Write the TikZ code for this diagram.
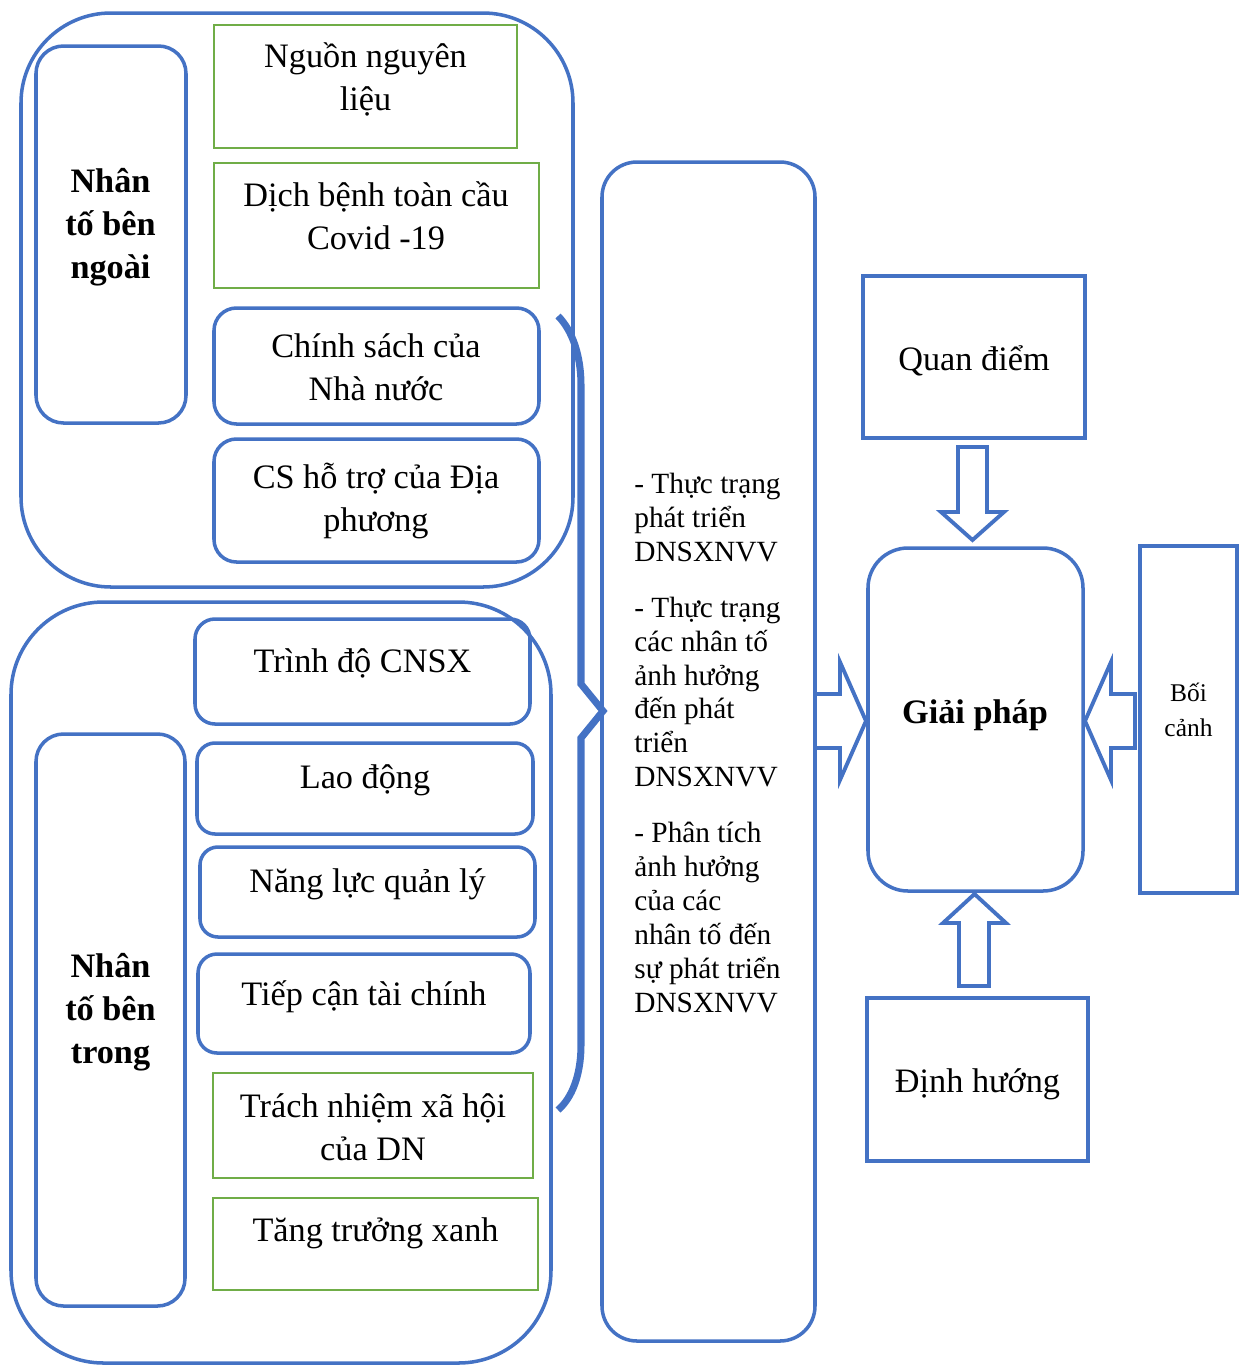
\documentclass[tikz,border=0pt]{standalone}
\usepackage{fontspec}
\setmainfont{Liberation Serif}
\usetikzlibrary{fit,calc}
\definecolor{ablue}{HTML}{4472C4}
\definecolor{agreen}{HTML}{70AD47}
\begin{document}
\begin{tikzpicture}[x=0.02cm,y=-0.02cm,
  bbox/.style={draw=ablue, line width=2pt, inner sep=0pt},
  gbox/.style={draw=agreen, line width=1.6pt, inner sep=0pt},
  txt/.style={font=\fontsize{19.5}{24.4}\selectfont, align=center, inner sep=0pt},
  btxt/.style={font=\fontsize{19.5}{24.4}\selectfont\bfseries, align=center, inner sep=0pt},
  midtxt/.style={font=\fontsize{16.7}{19.3}\selectfont, align=left, inner sep=0pt},
  smtxt/.style={font=\fontsize{14.5}{19.8}\selectfont, align=center, inner sep=0pt},
  blockarrow/.style={draw=ablue, line width=2.2pt, line join=miter, fill=white},
  bracelin/.style={draw=ablue, line width=4pt, line join=miter}]
\useasboundingbox (0,0) rectangle (1243,1367);

% outer groups
\node[bbox, rounded corners=1.8cm, fit={(21,13) (573,587)}] (outtop) {};
\node[bbox, rounded corners=1.85cm, fit={(11,602) (551,1363)}] (outbot) {};

% left labels
\node[bbox, rounded corners=0.55cm, fit={(36,46) (186,423)}] (ngoaibox) {};
\node[btxt] (ngoai) at (110.5,227) {Nhân\\tố bên\\ngoài};
\node[bbox, rounded corners=0.55cm, fit={(36,734) (185,1306)}] (trongbox) {};
\node[btxt] (trong) at (110.5,1012) {Nhân\\tố bên\\trong};

% external factors
\node[gbox, fit={(214,25) (517,148)}] (nguonbox) {};
\node[txt] (nguon) at (365.5,79) {Nguồn nguyên\\liệu};
\node[gbox, fit={(214,163) (539,288)}] (dichbox) {};
\node[txt] (dich) at (376,216) {Dịch bệnh toàn cầu\\Covid -19};
\node[bbox, rounded corners=0.45cm, fit={(214,308) (539,424)}] (csbox) {};
\node[txt] (cs) at (376,367) {Chính sách của\\Nhà nước};
\node[bbox, rounded corners=0.45cm, fit={(214,439) (539,562)}] (dpbox) {};
\node[txt] (dp) at (376,501) {CS hỗ trợ của Địa\\phương};

% internal factors
\node[bbox, rounded corners=0.4cm, fit={(195,619) (530,724)}] (cnbox) {};
\node[txt] (cn) at (362.5,663) {Trình độ CNSX};
\node[bbox, rounded corners=0.36cm, fit={(197,743) (533,834)}] (ldbox) {};
\node[txt] (ld) at (365,780) {Lao động};
\node[bbox, rounded corners=0.36cm, fit={(200,847) (535,937)}] (nlbox) {};
\node[txt] (nl) at (367.5,884) {Năng lực quản lý};
\node[bbox, rounded corners=0.38cm, fit={(198,954) (530,1053)}] (tcbox) {};
\node[txt] (tc) at (364,997) {Tiếp cận tài chính};
\node[gbox, fit={(213,1073) (533,1178)}] (tnbox) {};
\node[txt] (tn) at (373,1127) {Trách nhiệm xã hội\\của DN};
\node[gbox, fit={(213,1198) (538,1290)}] (ttbox) {};
\node[txt] (tt) at (375.5,1233) {Tăng trưởng xanh};

% brace
\draw[bracelin] (558,316) .. controls (572,330) and (581,355) .. (581,385)
  -- (581,684) -- (603,711) -- (581,738) -- (581,1045)
  .. controls (581,1075) and (572,1098) .. (558,1110);

% block arrows (drawn before the boxes they touch)
\draw[blockarrow] (958,447) -- (958,512) -- (941,512) -- (972.5,540) -- (1004,512) -- (987,512) -- (987,447) -- cycle;
\draw[blockarrow] (815,694) -- (840,694) -- (840,662) -- (866,721) -- (840,780) -- (840,748) -- (815,748);
\draw[blockarrow] (1135,694) -- (1111,694) -- (1111,662) -- (1085,721) -- (1111,780) -- (1111,748) -- (1135,748) -- cycle;
\draw[blockarrow] (959,986) -- (959,923) -- (943,923) -- (974.5,894) -- (1006,923) -- (989,923) -- (989,986) -- cycle;

% middle box
\node[bbox, rounded corners=0.7cm, fit={(602,162) (815,1341)}] (midbox) {};
\node[midtxt, anchor=north west] (mid) at (634,473) {- Thực trạng\\phát triển\\DNSXNVV\\[12.4pt]- Thực trạng\\các nhân tố\\ảnh hưởng\\đến phát\\triển\\DNSXNVV\\[12.4pt]- Phân tích\\ảnh hưởng\\của các\\nhân tố đến\\sự phát triển\\DNSXNVV};

% right side
\node[bbox, fit={(863,276) (1085,438)}] (qdbox) {};
\node[txt] (qd) at (974,361) {Quan điểm};
\node[bbox, rounded corners=0.8cm, fit={(868,548) (1083,891)}] (gpbox) {};
\node[btxt] (gp) at (975,715) {Giải pháp};
\node[bbox, fit={(1140,546) (1237,893)}] (bcbox) {};
\node[smtxt] (bc) at (1188.5,710) {Bối\\cảnh};
\node[bbox, fit={(867,998) (1088,1161)}] (dhbox) {};
\node[txt] (dh) at (977.5,1084) {Định hướng};
\end{tikzpicture}
\end{document}
